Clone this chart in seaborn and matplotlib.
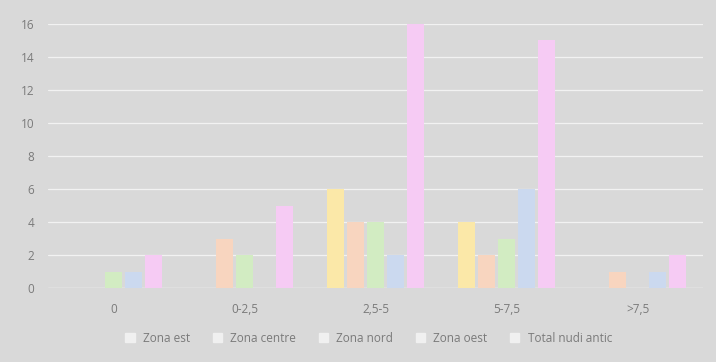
import matplotlib.pyplot as plt
import numpy as np
import pandas as pd
import seaborn as sns

categories = ['0', '0-2,5', '2,5-5', '5-7,5', '>7,5']
zona_est = [0, 0, 6, 4, 0]
zona_centre = [0, 3, 4, 2, 1]
zona_nord = [1, 2, 4, 3, 0]
zona_oest = [1, 0, 2, 6, 1]
total_nudi = [2, 5, 16, 15, 2]

series = ['Zona est', 'Zona centre', 'Zona nord', 'Zona oest', 'Total nudi antic']
colors = ['#fbe8a8', '#f8d5bf', '#d2ecc2', '#cbd9ef', '#f6cbf4']

rows = []
for name, vals in zip(series, [zona_est, zona_centre, zona_nord, zona_oest, total_nudi]):
    for c, v in zip(categories, vals):
        rows.append({'cat': c, 'serie': name, 'val': v})
df = pd.DataFrame(rows)

sns.set_style('white')
plt.rcParams['font.family'] = ['Open Sans', 'DejaVu Sans']
fig = plt.figure(figsize=(7.16, 3.62), dpi=100)
fig.patch.set_facecolor('#d9d9d9')
ax = fig.add_axes([0.067, 0.204, 0.915, 0.73])
ax.set_facecolor('#d9d9d9')

sns.barplot(data=df, x='cat', y='val', hue='serie', hue_order=series,
            palette=colors, width=0.76, gap=0.17, ax=ax, legend=False,
            saturation=1, linewidth=0)

ax.set_ylim(0, 16)
ax.set_yticks(range(0, 17, 2))
ax.yaxis.grid(True, color='#f2f2f2', linewidth=0.9)
ax.set_axisbelow(True)
for s in ax.spines.values():
    s.set_visible(False)
ax.axhline(0, color='#f2f2f2', linewidth=1, zorder=0.5)
ax.set_xlabel('')
ax.set_ylabel('')
ax.tick_params(axis='both', length=0, labelsize=8.5, colors='#7a7a7a')
ax.tick_params(axis='x', pad=11)
ax.tick_params(axis='y', pad=10)

handles = [plt.Rectangle((0, 0), 1, 1, color='#f0f0f0') for _ in series]
fig.legend(handles, series, loc='center', bbox_to_anchor=(0.515, 0.066), ncol=5,
           frameon=False, fontsize=8.5, labelcolor='#7a7a7a', handlelength=0.8,
           handleheight=0.8, columnspacing=1.9, handletextpad=0.7)

fig.savefig('out.png', dpi=100, facecolor=fig.get_facecolor())
